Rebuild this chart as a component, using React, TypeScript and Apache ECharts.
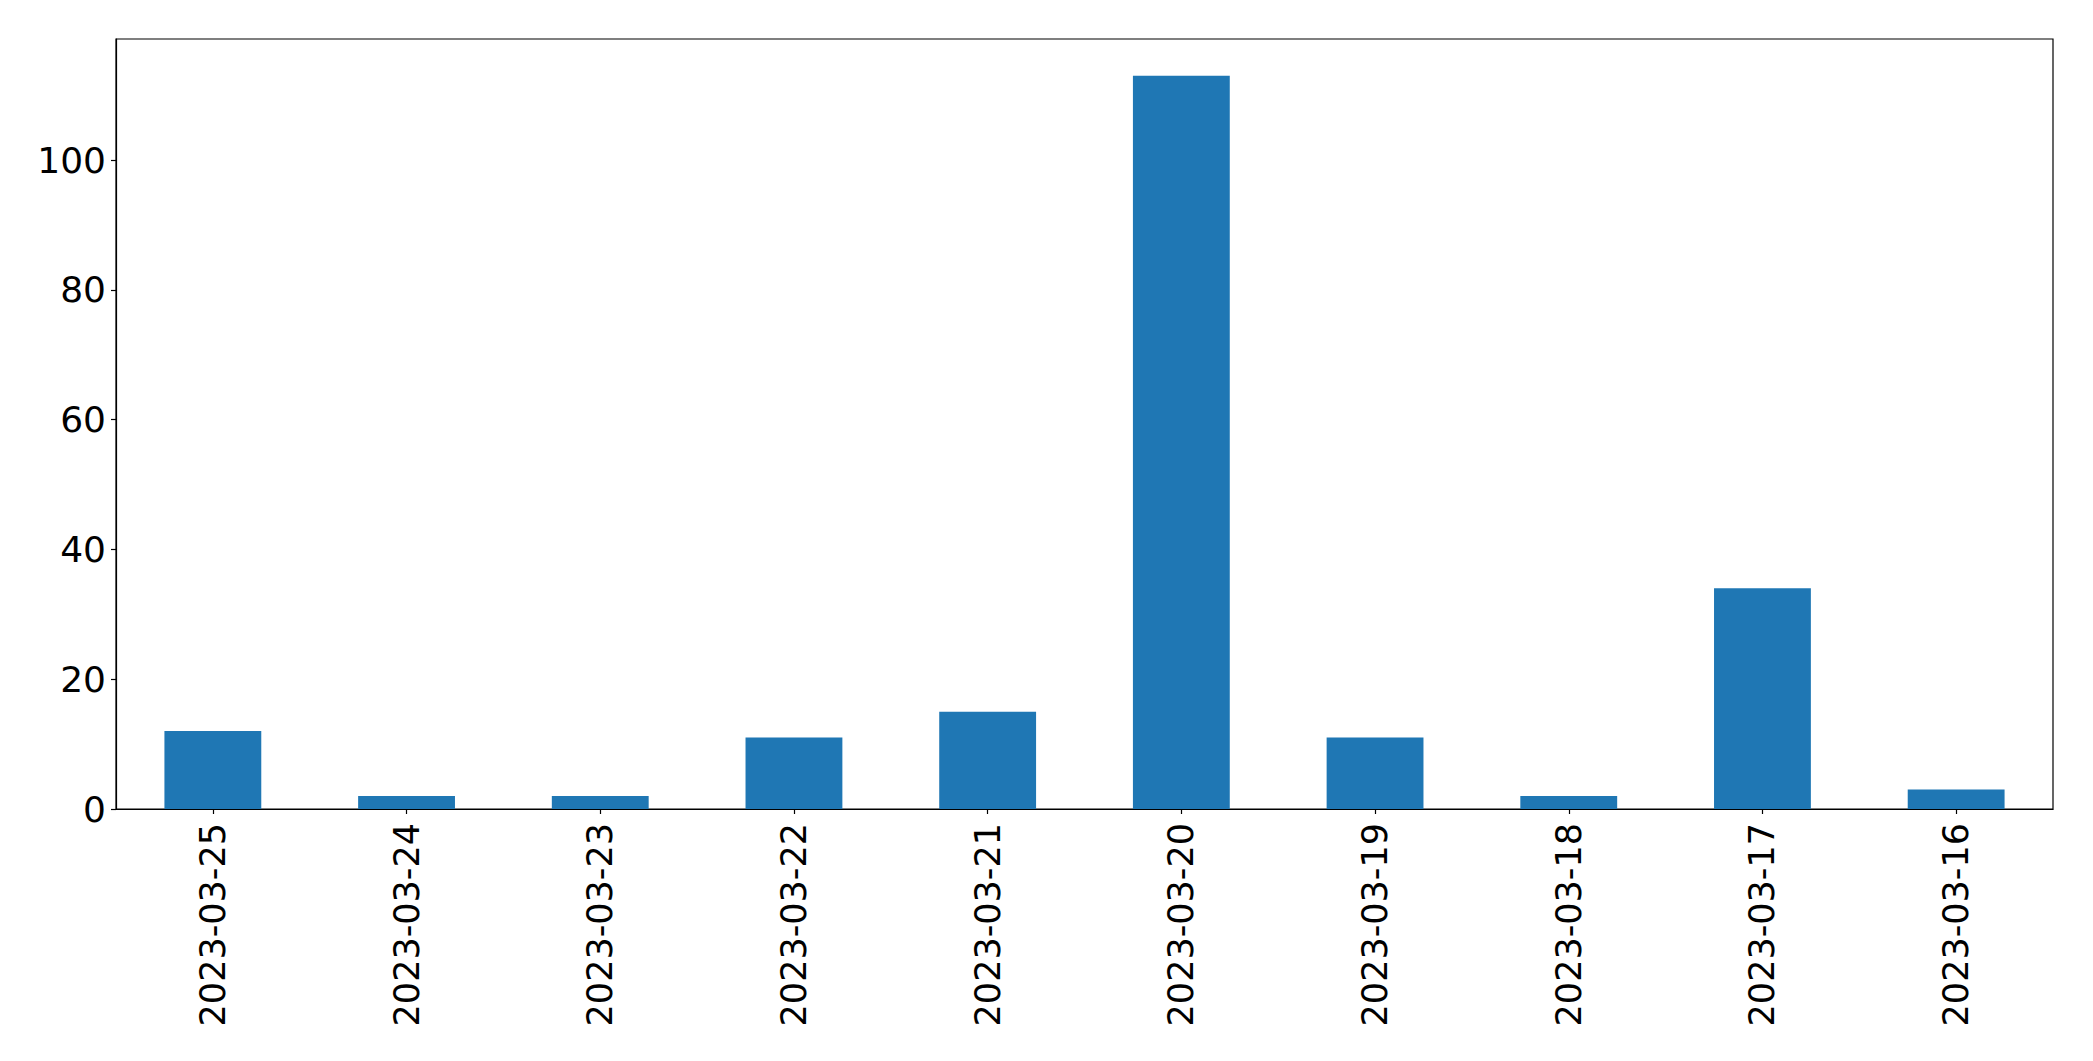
import React, { useEffect, useRef } from "react";
import * as echarts from "echarts";

const categories = [
  "2023-03-25",
  "2023-03-24",
  "2023-03-23",
  "2023-03-22",
  "2023-03-21",
  "2023-03-20",
  "2023-03-19",
  "2023-03-18",
  "2023-03-17",
  "2023-03-16",
];
const values = [12, 2, 2, 11, 15, 113, 11, 2, 34, 3];
const yTicks = [0, 20, 40, 60, 80, 100];

export default function App() {
  const ref = useRef<HTMLDivElement>(null);
  useEffect(() => {
    document.body.style.margin = "0";
    if (!ref.current) return;
    const chart = echarts.init(ref.current, undefined, { renderer: "svg" });
    const maxV = Math.max(...values) * 1.05;
    const font = "DejaVu Sans";
    chart.setOption({
      animation: false,
      backgroundColor: "#ffffff",
      grid: {
        left: 116,
        right: 40,
        top: 39,
        bottom: 252,
        show: true,
        borderColor: "#000",
        borderWidth: 1.2,
        backgroundColor: "transparent",
      },
      xAxis: {
        type: "category",
        data: categories,
        boundaryGap: true,
        axisLine: { show: true, lineStyle: { color: "#000", width: 1.2 } },
        axisTick: {
          show: true,
          alignWithLabel: true,
          length: 5,
          lineStyle: { color: "#000", width: 1.2 },
        },
        axisLabel: {
          rotate: 90,
          interval: 0,
          margin: 14,
          fontFamily: font,
          fontSize: 35,
          color: "#000",
        },
        splitLine: { show: false },
      },
      yAxis: {
        type: "value",
        min: 0,
        max: maxV,
        axisLine: { show: true, lineStyle: { color: "#000", width: 1.2 } },
        axisTick: {
          show: true,
          length: 5,
          customValues: yTicks,
          lineStyle: { color: "#000", width: 1.2 },
        },
        axisLabel: {
          margin: 10,
          customValues: yTicks,
          fontFamily: font,
          fontSize: 36,
          color: "#000",
          padding: [5, 0, 0, 0],
        },
        splitLine: { show: false },
      },
      series: [
        {
          type: "bar",
          data: values,
          barWidth: "50%",
          itemStyle: { color: "#1f77b4" },
        },
      ],
    });
    return () => chart.dispose();
  }, []);
  return <div ref={ref} style={{ width: 2093, height: 1061 }} />;
}
